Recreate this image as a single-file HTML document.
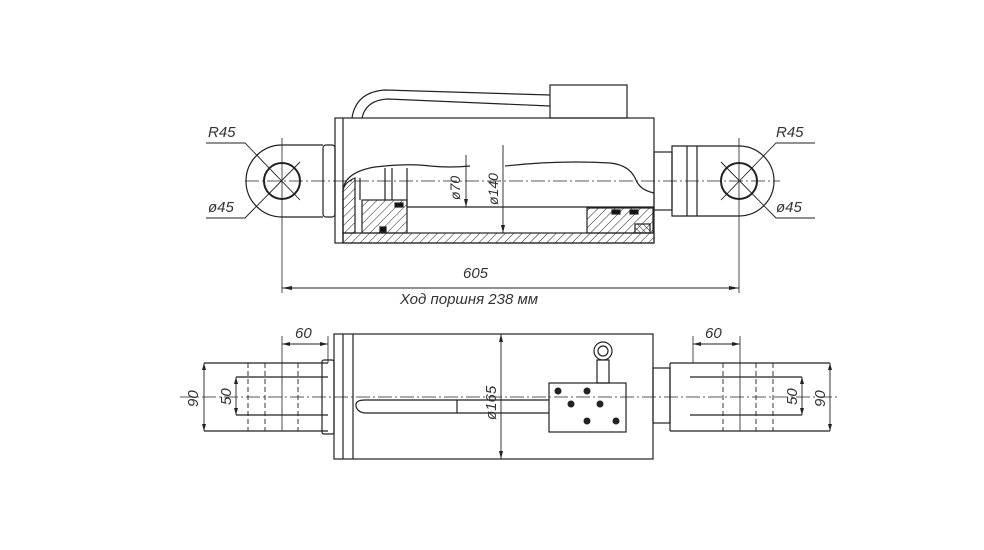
<!DOCTYPE html>
<html><head><meta charset="utf-8"><style>html,body{margin:0;padding:0;background:#fff}svg{display:block}text{font-family:"Liberation Sans",sans-serif;font-style:italic;fill:#333}</style></head>
<body>
<svg width="984" height="550" viewBox="0 0 984 550" xmlns="http://www.w3.org/2000/svg">
<defs>
<pattern id="h" width="6" height="6" patternUnits="userSpaceOnUse" patternTransform="rotate(45)"><line x1="0" y1="0" x2="0" y2="6" stroke="#222" stroke-width="1"/></pattern>
<pattern id="h2" width="4" height="4" patternUnits="userSpaceOnUse" patternTransform="rotate(-45)"><line x1="0" y1="0" x2="0" y2="4" stroke="#222" stroke-width="1"/></pattern>
</defs>
<g fill="none" stroke="#222" stroke-width="1.2">
<!-- TOP VIEW -->
<!-- pipe -->
<path d="M352 118 Q356 92 385 90 L550 95"/>
<path d="M362 118 Q366 100 388 99 L550 106"/>
<rect x="550" y="85" width="77" height="33"/>
<!-- body -->
<rect x="335" y="118" width="319" height="125"/>
<line x1="343" y1="118" x2="343" y2="243"/>
<!-- left eye -->
<path d="M323 145 L282 145 A36 36 0 0 0 282 217 L323 217"/>
<rect x="323" y="145" width="12" height="72" rx="3"/>
<circle cx="282" cy="181" r="18" stroke-width="2"/>
<!-- right eye -->
<path d="M672 146 L739 146 A35 35 0 0 1 739 216 L672 216 Z"/>
<line x1="687" y1="146" x2="687" y2="216"/><line x1="697" y1="146" x2="697" y2="216"/>
<rect x="654" y="152" width="18" height="58"/>
<circle cx="739" cy="181" r="18" stroke-width="2"/>
<!-- section -->
<path d="M343 243 L343 190 Q345 172 375 167 Q410 163 430 166 Q450 168 470 166" />
<path d="M505 166 Q560 160 610 163 Q630 165 636 180 Q640 190 654 193"/>
<rect x="343" y="233" width="311" height="10" fill="url(#h)"/>
<path d="M343 233 L343 190 Q345 182 355 178 L355 233 Z" fill="url(#h)"/>
<rect x="362" y="200" width="45" height="33" fill="url(#h)"/>
<line x1="360" y1="178" x2="360" y2="200"/><line x1="385" y1="168" x2="385" y2="200"/><line x1="392" y1="168" x2="392" y2="200"/><line x1="407" y1="168" x2="407" y2="207"/>
<line x1="407" y1="207" x2="654" y2="207"/>
<rect x="587" y="208" width="66" height="25" fill="url(#h)"/>
<rect x="380" y="227" width="6" height="5" fill="#111"/><rect x="395" y="203" width="8" height="4" fill="#111"/>
<rect x="612" y="210" width="8" height="4" fill="#111"/><rect x="630" y="210" width="8" height="4" fill="#111"/>
<rect x="635" y="224" width="15" height="9" fill="url(#h2)"/>
<!-- centerline -->
<line x1="245" y1="181" x2="780" y2="181" stroke-width="0.8" stroke-dasharray="14 3 2 3"/>
<line x1="282" y1="138" x2="282" y2="293" stroke-width="0.8"/>
<line x1="739" y1="138" x2="739" y2="293" stroke-width="0.8"/>
<!-- dims -->
<line x1="466" y1="155" x2="466" y2="207" stroke-width="0.9"/>
<line x1="503" y1="145" x2="503" y2="233" stroke-width="0.9"/>
<line x1="282" y1="288" x2="739" y2="288" stroke-width="0.9"/>
<path d="M206 143 L245 143 L300 200 M206 218 L245 218 L300 162 M815 143 L776 143 L721 200 M815 218 L776 218 L721 162" stroke-width="0.9"/>
</g>
<g fill="#222">
<path d="M282 288 l10 -2 v4 z M739 288 l-10 -2 v4 z M466 207 l-2 -8 h4 z M503 233 l-2 -8 h4 z"/>
</g>
<text x="208" y="137" font-size="15">R45</text>
<text x="208" y="212" font-size="15">ø45</text>
<text x="776" y="137" font-size="15">R45</text>
<text x="776" y="212" font-size="15">ø45</text>
<text x="463" y="278" font-size="15">605</text>
<text x="400" y="304" font-size="15">Ход поршня 238 мм</text>
<text transform="translate(460,200) rotate(-90)" font-size="14">ø70</text>
<text transform="translate(498,205) rotate(-90)" font-size="14">ø140</text>

<!-- BOTTOM VIEW -->
<g fill="none" stroke="#222" stroke-width="1.2">
<rect x="334" y="334" width="319" height="125"/>
<line x1="343" y1="334" x2="343" y2="459"/><line x1="353" y1="334" x2="353" y2="459"/>
<!-- left clevis -->
<path d="M328 363 L204 363 M204 431 L328 431 M236 377 L328 377 M236 415 L328 415"/>
<rect x="322" y="360" width="12" height="74" rx="2"/>
<g stroke-dasharray="5 3" stroke-width="0.9"><line x1="248" y1="363" x2="248" y2="431"/><line x1="265" y1="363" x2="265" y2="431"/><line x1="298" y1="363" x2="298" y2="431"/></g>
<line x1="282" y1="336" x2="282" y2="431" stroke-width="0.8"/>
<line x1="328" y1="336" x2="328" y2="363" stroke-width="0.8"/>
<line x1="282" y1="344" x2="328" y2="344" stroke-width="0.9"/>
<line x1="204" y1="363" x2="204" y2="431" stroke-width="0.9"/>
<line x1="236" y1="377" x2="236" y2="415" stroke-width="0.9"/>
<!-- right clevis -->
<rect x="653" y="368" width="17" height="55"/>
<path d="M670 363 L830 363 M670 431 L830 431 M670 363 L670 431 M690 377 L802 377 M690 415 L802 415"/>
<g stroke-dasharray="5 3" stroke-width="0.9"><line x1="723" y1="363" x2="723" y2="431"/><line x1="756" y1="363" x2="756" y2="431"/><line x1="773" y1="363" x2="773" y2="431"/></g>
<line x1="693" y1="336" x2="693" y2="363" stroke-width="0.8"/>
<line x1="740" y1="336" x2="740" y2="431" stroke-width="0.8"/>
<line x1="693" y1="344" x2="740" y2="344" stroke-width="0.9"/>
<line x1="830" y1="363" x2="830" y2="431" stroke-width="0.9"/>
<line x1="802" y1="377" x2="802" y2="415" stroke-width="0.9"/>
<!-- pipe -->
<path d="M549 400 L365 400 Q355 400 356 406 Q357 412 365 413 L549 413"/>
<line x1="457" y1="400" x2="457" y2="413"/>
<!-- valve -->
<rect x="549" y="383" width="77" height="49"/>
<rect x="597" y="360" width="12" height="23"/>
<circle cx="603" cy="351" r="9"/><circle cx="603" cy="351" r="5"/>
<line x1="501" y1="334" x2="501" y2="459" stroke-width="0.9"/>
<line x1="180" y1="397" x2="840" y2="397" stroke-width="0.8" stroke-dasharray="14 3 2 3"/>
</g>
<g fill="#222">
<circle cx="558" cy="391" r="3.5"/><circle cx="587" cy="391" r="3.5"/><circle cx="571" cy="404" r="3.5"/><circle cx="600" cy="404" r="3.5"/><circle cx="587" cy="421" r="3.5"/><circle cx="616" cy="421" r="3.5"/>
<path d="M282 344 l8 -2 v4 z M328 344 l-8 -2 v4 z M693 344 l8 -2 v4 z M740 344 l-8 -2 v4 z M501 334 l-2 8 h4 z M501 459 l-2 -8 h4 z M204 363 l-2 7 h4 z M204 431 l-2 -7 h4 z M236 377 l-2 7 h4 z M236 415 l-2 -7 h4 z M830 363 l-2 7 h4 z M830 431 l-2 -7 h4 z M802 377 l-2 7 h4 z M802 415 l-2 -7 h4 z"/>
</g>
<text x="295" y="338" font-size="15">60</text>
<text x="705" y="338" font-size="15">60</text>
<text transform="translate(198,407) rotate(-90)" font-size="15">90</text>
<text transform="translate(231,405) rotate(-90)" font-size="15">50</text>
<text transform="translate(797,405) rotate(-90)" font-size="15">50</text>
<text transform="translate(825,407) rotate(-90)" font-size="15">90</text>
<text transform="translate(496,420) rotate(-90)" font-size="15">ø165</text>
</svg>
</body></html>
